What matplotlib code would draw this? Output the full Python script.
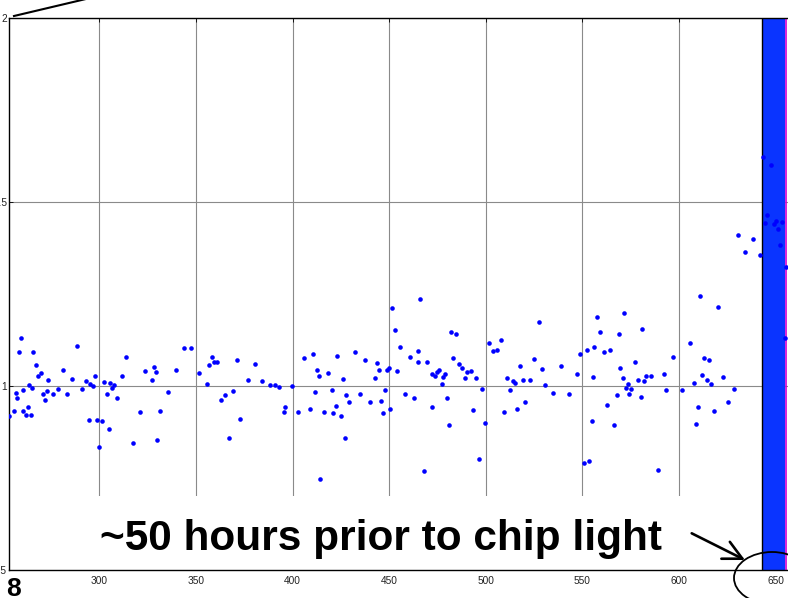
import matplotlib
matplotlib.use("Agg")
import matplotlib.pyplot as plt
from matplotlib.patches import Rectangle, Ellipse, FancyArrowPatch, ArrowStyle
from matplotlib.lines import Line2D

plt.rcParams['font.family'] = ['Liberation Sans', 'DejaVu Sans']

# ---- data ----
hours = [253.3, 255.6, 256.8, 257.3, 258.5, 259.4, 260.4, 260.5, 262.0, 262.8,
         263.7, 264.5, 264.9, 265.7, 267.0, 268.3, 269.6, 270.7, 271.8, 272.7,
         273.3, 275.9, 278.5, 281.0, 283.2, 285.6, 288.2, 290.8, 293.2, 294.6,
         295.2, 296.5, 297.5, 298.7, 299.6, 301.3, 302.5, 303.9, 305.1, 305.6,
         306.5, 307.4, 309.2, 311.8, 313.9, 317.5, 320.8, 323.6, 327.2, 328.4,
         329.3, 329.8, 331.5, 335.6, 339.5, 343.6, 347.4, 351.5, 355.5, 356.8,
         358.1, 359.3, 361.0, 362.8, 364.8, 367.0, 369.0, 371.2, 372.7, 376.7,
         380.5, 384.3, 388.4, 390.7, 392.8, 395.4, 396.2, 399.5, 402.8, 405.7,
         409.1, 410.4, 411.4, 412.5, 413.5, 414.0, 416.1, 418.2, 420.2, 420.7,
         422.3, 422.8, 424.9, 426.1, 427.0, 427.8, 429.2, 432.1, 435.0, 437.5,
         440.1, 442.6, 443.7, 444.7, 445.6, 446.8, 447.8, 449.0, 450.0, 450.4,
         451.6, 453.0, 454.0, 455.8, 458.3, 460.9, 462.7, 464.9, 464.9, 465.9,
         468.0, 469.7, 472.0, 472.3, 473.6, 474.6, 475.6, 477.3, 477.8, 478.7,
         479.9, 481.1, 482.0, 483.2, 484.6, 486.1, 487.5, 489.2, 490.4, 492.2,
         493.5, 495.1, 496.5, 498.0, 499.4, 501.5, 503.7, 505.6, 507.9, 509.6,
         511.1, 512.5, 514.1, 515.1, 516.3, 517.6, 519.3, 520.2, 522.7, 525.1,
         527.4, 529.1, 530.7, 534.6, 538.8, 543.1, 547.2, 548.9, 550.7, 552.2,
         553.6, 554.8, 555.7, 556.2, 557.7, 559.3, 561.2, 562.9, 564.5, 566.2,
         567.9, 568.8, 569.6, 570.9, 571.7, 572.6, 573.5, 574.3, 575.2, 577.3,
         579.0, 580.2, 581.0, 581.9, 582.8, 585.7, 589.0, 592.1, 593.3, 597.1,
         601.6, 605.7, 607.8, 609.0, 609.9, 611.1, 611.9, 613.1, 614.5, 615.4,
         616.6, 618.0, 620.1, 623.0, 625.6, 628.4, 630.6, 634.4, 638.2, 641.8,
         643.4, 644.7, 645.8, 647.5, 649.2, 650.1, 651.3, 652.2, 653.5, 654.8, 655.6]

ratio = [0.919, 0.933, 0.980, 0.967, 1.092, 1.131, 0.989, 0.931, 0.922, 0.944,
         1.002, 0.922, 0.995, 1.092, 1.057, 1.026, 1.035, 0.977, 0.962, 0.986,
         1.017, 0.977, 0.993, 1.043, 0.977, 1.020, 1.109, 0.993, 1.013, 0.907,
         1.005, 1.000, 1.028, 0.908, 0.833, 0.906, 1.011, 0.979, 0.882, 1.008,
         0.995, 1.002, 0.967, 1.028, 1.080, 0.846, 0.929, 1.040, 1.015, 1.051,
         1.037, 0.853, 0.933, 0.984, 1.044, 1.104, 1.104, 1.035, 1.006, 1.057,
         1.080, 1.066, 1.064, 0.962, 0.975, 0.860, 0.986, 1.071, 0.911, 1.017,
         1.060, 1.013, 1.002, 1.002, 0.997, 0.929, 0.942, 0.999, 0.930, 1.077,
         0.937, 1.086, 0.984, 1.043, 1.026, 0.747, 0.929, 1.035, 0.988, 0.927,
         0.946, 1.082, 0.919, 1.019, 0.860, 0.975, 0.957, 1.093, 0.979, 1.071,
         0.957, 1.022, 1.062, 1.044, 0.959, 0.927, 0.988, 1.044, 1.048, 0.937,
         1.213, 1.153, 1.040, 1.107, 0.979, 1.080, 0.967, 1.095, 1.066, 1.236,
         0.769, 1.066, 1.033, 0.942, 1.026, 1.038, 1.043, 1.005, 1.024, 1.033,
         0.967, 0.893, 1.147, 1.075, 1.142, 1.060, 1.048, 1.022, 1.037, 1.040,
         0.935, 1.022, 0.802, 0.993, 0.899, 1.118, 1.095, 1.098, 1.124, 0.929,
         1.022, 0.988, 1.013, 1.008, 0.937, 1.055, 1.015, 0.957, 1.015, 1.073,
         1.175, 1.046, 1.004, 0.982, 1.055, 0.979, 1.033, 1.086, 0.791, 1.097,
         0.795, 0.904, 1.024, 1.106, 1.187, 1.147, 1.092, 0.948, 1.097, 0.893,
         0.975, 1.142, 1.049, 1.022, 1.198, 0.995, 1.006, 0.979, 0.993, 1.066,
         1.017, 0.970, 1.155, 1.014, 1.028, 1.026, 0.771, 1.033, 0.988, 1.080,
         0.990, 1.118, 1.008, 0.898, 0.942, 1.244, 1.029, 1.075, 1.015, 1.071,
         1.006, 0.931, 1.215, 1.024, 0.956, 0.993, 1.411, 1.364, 1.399, 1.355,
         1.621, 1.444, 1.464, 1.601, 1.439, 1.448, 1.427, 1.382, 1.446, 1.131, 1.324]

x_ticks = [300, 350, 400, 450, 500, 550, 600, 650]
y_ticks = [0.5, 1, 1.5, 2]
y_tick_labels = ['0.5', '1', '1.5', '2']
x_range = (252.9, 656.5)
y_range = (0.5, 2.0)
band = (643.2, 655.1)
band_edge = 655.6
annotation = '~50 hours prior to chip light'
page_label = '8'

# ---- figure ----
W, H = 788, 598
fig = plt.figure(figsize=(W / 100, H / 100), dpi=100)
ax = fig.add_axes([8.5 / W, 28 / H, (W - 8.5) / W, 552 / H])
ax.set_xlim(*x_range)
ax.set_ylim(*y_range)

ax.set_axisbelow(True)
ax.grid(True, color='#8a8a8a', lw=0.8)
ax.set_xticks(x_ticks)
ax.set_xticklabels([str(v) for v in x_ticks])
ax.set_yticks(y_ticks)
ax.set_yticklabels(y_tick_labels)
ax.tick_params(axis='both', direction='in', length=3, width=0.6, labelsize=7.3,
               colors='black', labelcolor='#222222')
ax.tick_params(axis='x', pad=4.5, top=True)
ax.tick_params(axis='y', pad=1.2)
for s in ['left', 'top', 'bottom']:
    ax.spines[s].set_linewidth(1.0)
    ax.spines[s].set_color('black')
ax.spines['right'].set_visible(False)

# white text box covering bottom of plot area
y_box_top = 0.701
ax.add_patch(Rectangle((x_range[0], y_range[0]), band[0] - x_range[0], y_box_top - y_range[0],
                       facecolor='white', edgecolor='none', zorder=0.8))

# blue band
ax.axvspan(band[0], band[1], color='#0a34ff', zorder=1, lw=0)
ax.axvline(band[0], color='black', lw=1.0, zorder=1.1)
ax.axvline(band_edge, color='#d000d0', lw=1.2, zorder=1.1)

# data points
ax.plot(hours, ratio, 'o', ms=3.3, color='#0000ff', mec='none', zorder=3)

# annotation text
fig.text(100 / W, 1 - 550 / H, annotation, fontsize=30.5, fontweight='bold',
         va='baseline', ha='left', color='black')
fig.text(6.5 / W, 1 - 596 / H, page_label, fontsize=19, fontweight='bold',
         va='baseline', ha='left', color='black')

# arrow
arr = FancyArrowPatch((691.7 / W, 1 - 533.3 / H), (745 / W, 1 - 560 / H),
                      transform=fig.transFigure,
                      arrowstyle=ArrowStyle('->', head_length=13.5, head_width=6.8),
                      mutation_scale=1, lw=1.9, color='black',
                      shrinkA=0, shrinkB=0)
fig.add_artist(arr)

# ellipse around bottom right
fig.add_artist(Ellipse((772 / W, 1 - 578 / H), 76 / W, 52 / H,
                       transform=fig.transFigure, fill=False, lw=1.3, ec='black'))

# top-left line (partial annotation)
fig.add_artist(Line2D([14 / W, 88 / W], [1 - 16 / H, 1 + 1.5 / H],
                      transform=fig.transFigure, color='black', lw=1.5))

fig.savefig('out.png', dpi=100)
